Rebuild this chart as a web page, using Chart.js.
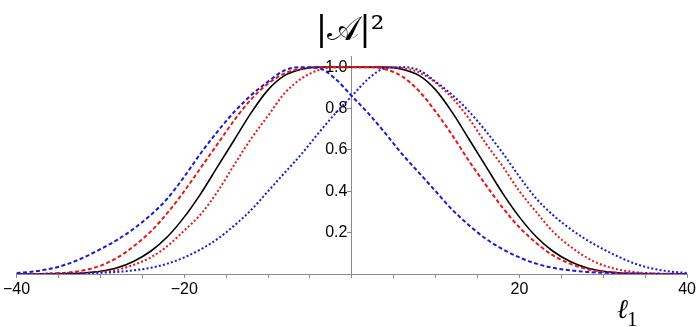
<!DOCTYPE html>
<html>
<head>
<meta charset="utf-8">
<script src="https://cdn.jsdelivr.net/npm/chart.js@4.4.0/dist/chart.umd.min.js"></script>
<style>
  html, body { margin: 0; padding: 0; background: #fff; }
  canvas { display: block; }
</style>
</head>
<body>
<canvas id="chart" width="699" height="327"></canvas>
<script>
// sample positions along l1
const xs = [-40, -38, -36, -34, -32, -30, -28, -26, -24, -22, -20, -18, -16, -14, -12, -10, -8, -6, -4, -2,
            0, 2, 4, 6, 8, 10, 12, 14, 16, 18, 20, 22, 24, 26, 28, 30, 32, 34, 36, 38, 40];

// |A|^2, one array per curve
const blueDashed = [0.005, 0.012, 0.025, 0.047, 0.08, 0.12, 0.165, 0.22, 0.285, 0.365, 0.47, 0.585, 0.69, 0.785, 0.865, 0.93, 0.985, 1.0, 0.995, 0.945,
                    0.86, 0.775, 0.68, 0.58, 0.49, 0.40, 0.31, 0.235, 0.17, 0.12, 0.08, 0.05, 0.03, 0.018, 0.01, 0.006, 0.003, 0.002, 0.001, 0, 0];
const blueDotted = [0, 0, 0.001, 0.002, 0.003, 0.006, 0.01, 0.018, 0.03, 0.05, 0.08, 0.12, 0.17, 0.235, 0.31, 0.40, 0.49, 0.58, 0.68, 0.775,
                    0.86, 0.945, 0.995, 1.0, 0.985, 0.93, 0.865, 0.785, 0.69, 0.585, 0.47, 0.365, 0.285, 0.22, 0.165, 0.12, 0.08, 0.047, 0.025, 0.012, 0.005];
const redDashed = [0, 0, 0.002, 0.007, 0.018, 0.04, 0.078, 0.135, 0.205, 0.295, 0.40, 0.515, 0.63, 0.745, 0.845, 0.92, 0.97, 0.993, 1.0, 1.0,
                   1.0, 1.0, 0.99, 0.955, 0.885, 0.785, 0.67, 0.545, 0.43, 0.32, 0.225, 0.15, 0.09, 0.05, 0.024, 0.011, 0.005, 0.002, 0.001, 0, 0];
const redDotted = [0, 0, 0.001, 0.002, 0.005, 0.01, 0.02, 0.045, 0.08, 0.135, 0.21, 0.29, 0.40, 0.53, 0.655, 0.765, 0.875, 0.945, 0.985, 1.0,
                   1.0, 1.0, 1.0, 0.995, 0.975, 0.925, 0.85, 0.75, 0.63, 0.52, 0.40, 0.30, 0.205, 0.135, 0.08, 0.042, 0.02, 0.008, 0.003, 0.001, 0];
const blackSolid = [0, 0, 0.001, 0.002, 0.005, 0.013, 0.03, 0.062, 0.11, 0.18, 0.275, 0.39, 0.52, 0.65, 0.78, 0.89, 0.96, 0.99, 1.0, 1.0,
                    1.0, 1.0, 1.0, 0.99, 0.96, 0.89, 0.78, 0.65, 0.52, 0.39, 0.275, 0.18, 0.11, 0.062, 0.03, 0.013, 0.005, 0.002, 0.001, 0, 0];

// labelled ticks
const xTickLabels = [-40, -20, 20, 40];
const yTickLabels = [0.2, 0.4, 0.6, 0.8, 1.0];

const BLUE = 'rgb(25, 25, 215)';
const RED = 'rgb(235, 20, 20)';
const AXIS = '#8a8a8a';
const TICK_FONT = { family: "'Liberation Sans', Arial, sans-serif", size: 16 };

function pts(vals) {
    return xs.map((x, i) => ({ x: x, y: vals[i] }));
}

function line(vals, color, dash, width) {
    return {
        data: pts(vals),
        borderColor: color,
        borderWidth: width,
        borderDash: dash,
        pointRadius: 0,
        fill: false,
        cubicInterpolationMode: 'monotone'
    };
}

// axis variable under the x axis
const axisLabelPlugin = {
    id: 'axisLabel',
    afterDraw(chart) {
        const { ctx, scales: { x, y } } = chart;
        const px = x.getPixelForValue(31.6);
        const base = y.getPixelForValue(0);
        ctx.save();
        ctx.fillStyle = '#000';
        ctx.textAlign = 'left';
        ctx.textBaseline = 'alphabetic';
        ctx.font = "italic 27px 'DejaVu Serif', 'Liberation Serif', serif";
        ctx.fillText('ℓ', px, base + 44);
        const w = ctx.measureText('ℓ').width;
        ctx.font = "21px 'Liberation Serif', 'DejaVu Serif', serif";
        ctx.fillText('1', px + w - 1, base + 52);
        ctx.restore();
    }
};

new Chart(document.getElementById('chart'), {
    type: 'line',
    data: {
        datasets: [
            line(blueDashed, BLUE, [4, 2.5], 2),
            line(blueDotted, BLUE, [2, 2.2], 2),
            line(redDashed, RED, [4, 2.5], 2),
            line(redDotted, RED, [2, 2.2], 2),
            line(blackSolid, '#000', [], 1.6)
        ]
    },
    options: {
        responsive: false,
        animation: false,
        layout: { padding: { top: 0, left: 3, right: 2, bottom: 53 } },
        plugins: {
            legend: { display: false },
            tooltip: { enabled: false },
            title: {
                display: true,
                text: '|𝒜|²',
                color: '#000',
                font: { family: "'DejaVu Serif', 'Liberation Serif', serif", size: 34, weight: 'normal' },
                padding: { top: 11, bottom: 5 }
            }
        },
        scales: {
            x: {
                type: 'linear',
                min: -40,
                max: 40,
                position: { y: 0 },
                border: { color: AXIS, width: 1 },
                grid: { drawOnChartArea: false, tickLength: 3, color: AXIS },
                ticks: {
                    stepSize: 5,
                    autoSkip: false,
                    maxRotation: 0,
                    padding: 3,
                    color: '#000',
                    font: TICK_FONT,
                    callback(v) {
                        if (!xTickLabels.includes(v)) return '';
                        return v < 0 ? '\u2212' + (-v) : String(v);
                    }
                }
            },
            y: {
                type: 'linear',
                min: 0,
                max: 1.05,
                position: { x: 0 },
                border: { color: AXIS, width: 1 },
                grid: { drawOnChartArea: false, tickLength: 4, color: AXIS },
                ticks: {
                    stepSize: 0.2,
                    includeBounds: false,
                    color: '#000',
                    font: TICK_FONT,
                    callback(v) {
                        const hit = yTickLabels.find(t => Math.abs(t - v) < 1e-6);
                        return hit === undefined ? '' : hit.toFixed(1) + ' ';
                    }
                }
            }
        }
    },
    plugins: [axisLabelPlugin]
});
</script>
</body>
</html>
